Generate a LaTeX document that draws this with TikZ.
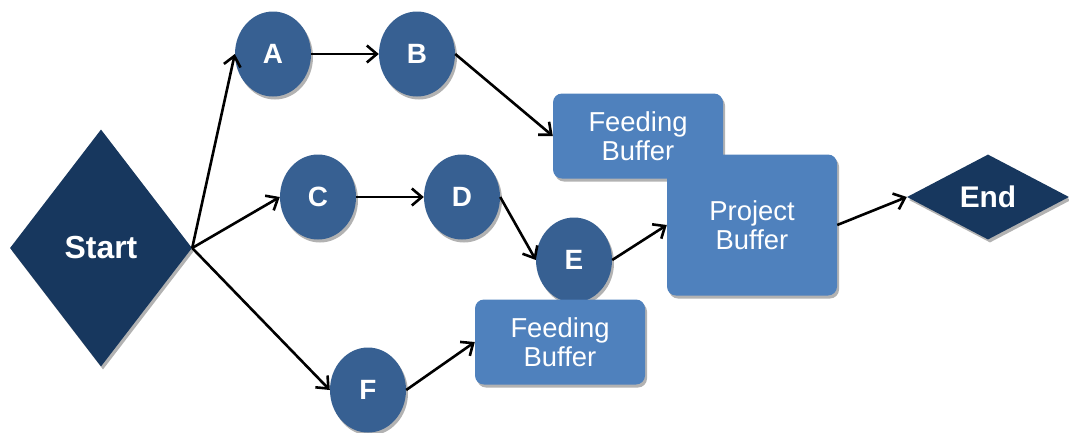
\documentclass[tikz,border=0pt]{standalone}
\usepackage{fontspec}
\setmainfont{Liberation Sans}
\usetikzlibrary{shapes.geometric,shadows,arrows.meta}

\definecolor{navy}{HTML}{17375E}
\definecolor{taskblue}{HTML}{376092}
\definecolor{bufblue}{HTML}{4F81BD}

\begin{document}
\begin{tikzpicture}[x=1bp,y=-1bp,
    shade/.style={drop shadow={shadow xshift=2bp,shadow yshift=-3bp,opacity=.3,fill=black}},
    gate/.style={diamond,shade,fill=navy,text=white,inner sep=0pt,
        font=\bfseries\fontsize{32}{36}\selectfont},
    task/.style={ellipse,shade,fill=taskblue,text=white,inner sep=0pt,
        minimum width=76bp,minimum height=85bp,font=\bfseries\fontsize{28}{32}\selectfont},
    buffer/.style={rectangle,rounded corners=9bp,shade,fill=bufblue,text=white,
        align=center,inner sep=0pt,minimum width=170bp,
        font=\fontsize{27.5}{29}\selectfont},
    link/.style={-{Straight Barb[length=10bp,width=17bp,line width=2.6bp]},line width=2.6bp,black}]
    \useasboundingbox (0,0) rectangle (1069,432);

    % start and the three chains
    \node[gate,minimum width=182bp,minimum height=237bp] (start) at (101,248) {Start};
    \node[task] (A) at (273,54) {A};
    \node[task] (B) at (417,54) {B};
    \node[task] (C) at (318,197) {C};
    \node[task] (D) at (462,197) {D};

    % buffers
    \node[buffer,minimum height=85bp] (fb1) at (638,136) {Feeding\\Buffer};
    \node[buffer,minimum height=141bp] (pb) at (752,225) {Project\\Buffer};
    \node[task] (E) at (574,260) {E};
    \node[buffer,minimum height=85bp] (fb2) at (560,342) {Feeding\\Buffer};
    \node[task] (F) at (368,390) {F};

    \node[gate,minimum width=162bp,minimum height=85bp,
        font=\bfseries\fontsize{30}{34}\selectfont] (end) at (988,197) {End};

    % arrows
    \draw[link] (start.east) -- (A.west);
    \draw[link] (start.east) -- (C.west);
    \draw[link] (start.east) -- (F.west);
    \draw[link] (A.east) -- (B.west);
    \draw[link] (B.east) -- (fb1.west);
    \draw[link] (C.east) -- (D.west);
    \draw[link] (D.east) -- (E.west);
    \draw[link] (E.east) -- (pb.west);
    \draw[link] (F.east) -- (fb2.west);
    \draw[link] (pb.east) -- (end.west);
\end{tikzpicture}
\end{document}
